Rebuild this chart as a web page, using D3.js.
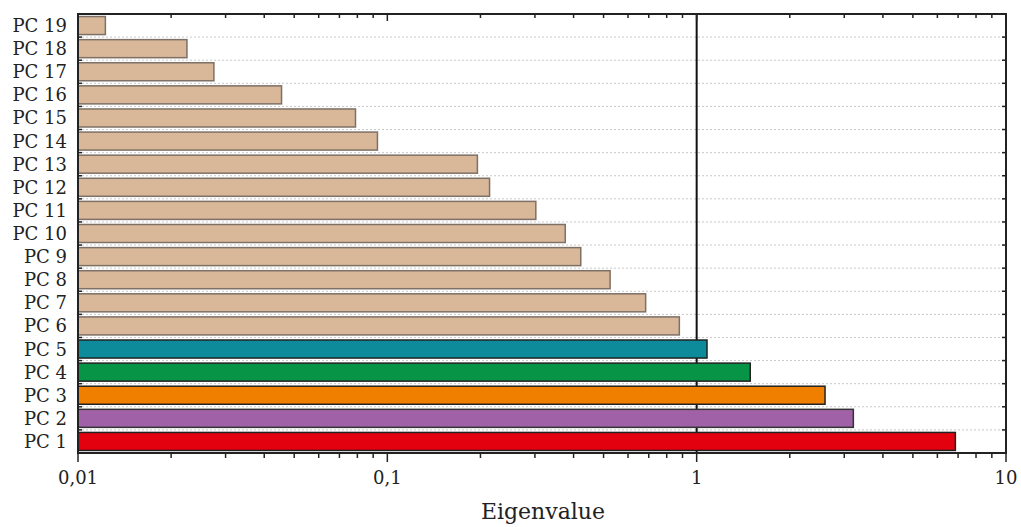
<!DOCTYPE html>
<html><head><meta charset="utf-8">
<script src="https://cdn.jsdelivr.net/npm/d3@7"></script>
<style>body{margin:0;background:#fff}svg{display:block}</style>
</head><body>
<svg id="c" width="1021" height="527"></svg>
<script>
const categories = ["PC 1","PC 2","PC 3","PC 4","PC 5","PC 6","PC 7","PC 8","PC 9","PC 10","PC 11","PC 12","PC 13","PC 14","PC 15","PC 16","PC 17","PC 18","PC 19"];
const eigenvalues = [6.86,3.21,2.60,1.49,1.08,0.879,0.684,0.525,0.422,0.376,0.302,0.214,0.1955,0.0929,0.0789,0.0455,0.0275,0.0225,0.01226];
const barColors = ["#e3000f","#a061a6","#f07f00","#079447","#0d8b9b","#d8b899","#d8b899","#d8b899","#d8b899","#d8b899","#d8b899","#d8b899","#d8b899","#d8b899","#d8b899","#d8b899","#d8b899","#d8b899","#d8b899"];
const strokeColors = ["#222","#333","#222","#222","#222","#7d7066","#7d7066","#7d7066","#7d7066","#7d7066","#7d7066","#7d7066","#7d7066","#7d7066","#7d7066","#7d7066","#7d7066","#7d7066","#7d7066"];
const xTickValues = [0.01,0.1,1,10];
const xTickLabels = ["0,01","0,1","1","10"];
const xTitle = "Eigenvalue";
const refLine = 1;

const svg = d3.select("#c");
const L=78, R=1006, T=14, B=453;
const font = "'DejaVu Serif','Liberation Serif',serif";
const x = d3.scaleLog().domain([0.01,10]).range([L,R]);
const y = d3.scaleBand().domain(categories).range([B,T]).paddingInner(0.22).paddingOuter(0.11);

// gridlines at category boundaries
const bounds = d3.range(1, categories.length).map(i => B - i*(B-T)/categories.length);
svg.append("g").selectAll("line").data(bounds).join("line")
  .attr("x1",L).attr("x2",R).attr("y1",d=>d).attr("y2",d=>d)
  .attr("stroke","#c8c8c8").attr("stroke-width",1).attr("stroke-dasharray","2,2");

// reference line (behind bars)
svg.append("line").attr("x1",x(refLine)).attr("x2",x(refLine)).attr("y1",T).attr("y2",B)
  .attr("stroke","#111").attr("stroke-width",2);

// bars
svg.append("g").selectAll("rect").data(categories).join("rect")
  .attr("x",L).attr("y",d=>y(d))
  .attr("width",(d,i)=>x(eigenvalues[i])-L)
  .attr("height",y.bandwidth())
  .attr("fill",(d,i)=>barColors[i])
  .attr("stroke",(d,i)=>strokeColors[i]).attr("stroke-width",1.5);

// minor ticks
const minor = [];
for (let e=-2;e<1;e++) for (let m=2;m<=9;m++) minor.push(m*Math.pow(10,e));
const tickG = svg.append("g").attr("stroke","#222").attr("stroke-width",1.5);
tickG.selectAll(".bmin").data(minor).join("line").attr("x1",d=>x(d)).attr("x2",d=>x(d)).attr("y1",B).attr("y2",B+5);
tickG.selectAll(".bmaj").data(xTickValues).join("line").attr("x1",d=>x(d)).attr("x2",d=>x(d)).attr("y1",B).attr("y2",B+9);
tickG.selectAll(".tmin").data(minor).join("line").attr("x1",d=>x(d)).attr("x2",d=>x(d)).attr("y1",T).attr("y2",T+4);
tickG.selectAll(".tmaj").data(xTickValues).join("line").attr("x1",d=>x(d)).attr("x2",d=>x(d)).attr("y1",T).attr("y2",T+7);
tickG.selectAll(".lt").data(bounds).join("line").attr("x1",L).attr("x2",L+4).attr("y1",d=>d).attr("y2",d=>d);
tickG.selectAll(".rt").data(bounds).join("line").attr("x1",R-4).attr("x2",R).attr("y1",d=>d).attr("y2",d=>d);

// frame
svg.append("rect").attr("x",L).attr("y",T).attr("width",R-L).attr("height",B-T)
  .attr("fill","none").attr("stroke","#222").attr("stroke-width",2);

// category labels
svg.append("g").selectAll("text").data(categories).join("text")
  .attr("x",L-11).attr("y",d=>y(d)+y.bandwidth()/2).attr("dy","0.36em")
  .attr("text-anchor","end").attr("font-family",font).attr("font-size",18).attr("fill","#222")
  .text(d=>d);

// x tick labels
svg.append("g").selectAll("text").data(xTickValues).join("text")
  .attr("x",d=>x(d)).attr("y",484).attr("text-anchor","middle")
  .attr("font-family",font).attr("font-size",18).attr("fill","#222")
  .text((d,i)=>xTickLabels[i]);

svg.append("text").attr("x",543).attr("y",519).attr("text-anchor","middle")
  .attr("font-family",font).attr("font-size",22).attr("fill","#222").text(xTitle);
</script>
</body></html>
